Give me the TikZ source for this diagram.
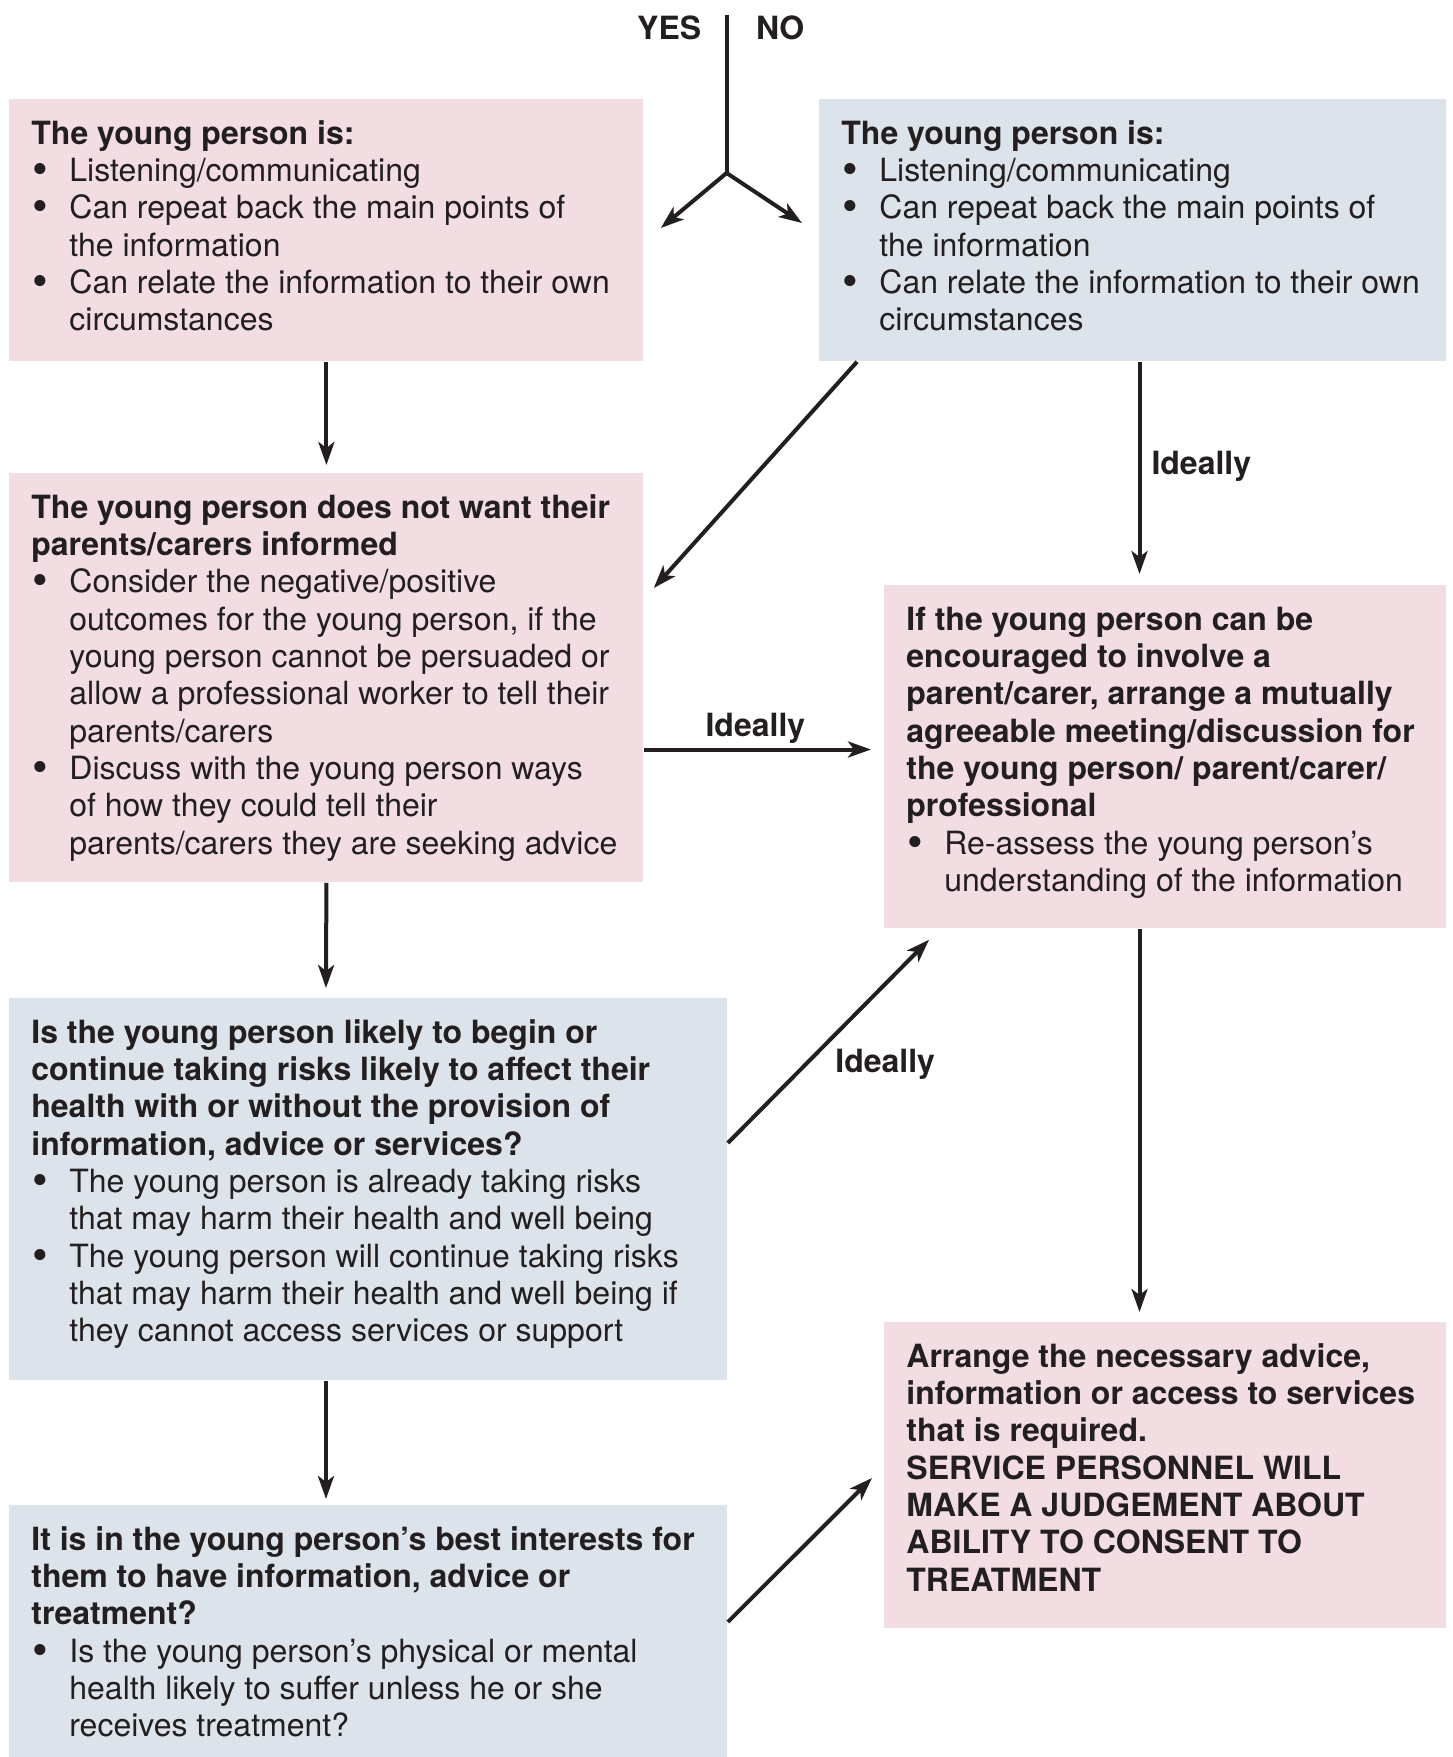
\documentclass[tikz,border=0pt]{standalone}
\usepackage{fontspec}
\setmainfont{TeX Gyre Heros}
\usetikzlibrary{arrows.meta,calc}

\definecolor{pinkfill}{RGB}{242,221,227}
\definecolor{bluefill}{RGB}{220,227,234}
\definecolor{inkgrey}{RGB}{35,31,32}

% bullet line, continuation line, boxed panel text
\newcommand\bitem{\makebox[19pt][l]{\hspace{0.6pt}\raisebox{-1.5pt}{\scalebox{1.4}{\textbullet}}}}
\newcommand\bcont{\hspace*{19pt}}
\newcommand\paneltext[3]{\hspace*{11pt}\parbox[t][#2][t]{\dimexpr#1-13pt\relax}{\raggedright\vspace*{9.4pt}\strut#3}\hspace*{2pt}}

\tikzset{
  panel/.style={anchor=north west, inner sep=0pt, text=inkgrey, font=\fontsize{16}{18.65}\selectfont},
  pinkbox/.style={panel, fill=pinkfill},
  bluebox/.style={panel, fill=bluefill},
  flow/.style={draw=inkgrey, line width=2pt, -{Stealth[length=11.5pt,width=8pt,inset=3pt]}},
  tag/.style={text=inkgrey, font=\fontsize{16}{18.65}\selectfont\bfseries, inner sep=0pt},
}

\begin{document}
\begin{tikzpicture}[x=0.5pt,y=-0.5pt]
\useasboundingbox (0,0) rectangle (1452,1757);

% Panels
\node[pinkbox] (listenyes) at (9,99) {\paneltext{317pt}{131pt}{%
\textbf{The young person is:}\\
\bitem Listening/communicating\\
\bitem Can repeat back the main points of\\
\bcont the information\\
\bitem Can relate the information to their own\\
\bcont circumstances}};

\node[bluebox] (listenno) at (819,99) {\paneltext{313.5pt}{131pt}{%
\textbf{The young person is:}\\
\bitem Listening/communicating\\
\bitem Can repeat back the main points of\\
\bcont the information\\
\bitem Can relate the information to their own\\
\bcont circumstances}};

\node[pinkbox] (noparents) at (9,473) {\paneltext{317pt}{204.5pt}{%
\textbf{The young person does not want their\\
parents/carers informed}\\
\bitem Consider the negative/positive\\
\bcont outcomes for the young person, if the\\
\bcont young person cannot be persuaded or\\
\bcont allow a professional worker to tell their\\
\bcont parents/carers\\
\bitem Discuss with the young person ways\\
\bcont of how they could tell their\\
\bcont parents/carers they are seeking advice}};

\node[pinkbox] (involve) at (884,585) {\paneltext{281pt}{171.5pt}{%
\textbf{If the young person can be\\
encouraged to involve a\\
parent/carer, arrange a mutually\\
agreeable meeting/discussion for\\
the young person/ parent/carer/\\
professional}\\
\bitem Re-assess the young person’s\\
\bcont understanding of the information}};

\node[bluebox] (risks) at (9,998) {\paneltext{359pt}{191pt}{%
\textbf{Is the young person likely to begin or\\
continue taking risks likely to affect their\\
health with or without the provision of\\
information, advice or services?}\\
\bitem The young person is already taking risks\\
\bcont that may harm their health and well being\\
\bitem The young person will continue taking risks\\
\bcont that may harm their health and well being if\\
\bcont they cannot access services or support}};

\node[bluebox] (interests) at (9,1505) {\paneltext{359pt}{126pt}{%
\textbf{It is in the young person’s best interests for\\
them to have information, advice or\\
treatment?}\\
\bitem Is the young person’s physical or mental\\
\bcont health likely to suffer unless he or she\\
\bcont receives treatment?}};

\node[pinkbox] (arrange) at (884,1322) {\paneltext{281pt}{153pt}{%
\textbf{Arrange the necessary advice,\\
information or access to services\\
that is required.\\
SERVICE PERSONNEL WILL\\
MAKE A JUDGEMENT ABOUT\\
ABILITY TO CONSENT TO\\
TREATMENT}}};

% Yes/no fork
\coordinate (forktop) at (726.6,15);
\coordinate (fork) at (726.6,173);
\node[tag, anchor=base east] (yes) at ($(forktop)+(-25,24)$) {YES};
\node[tag, anchor=base west] (no) at ($(forktop)+(29,24)$) {NO};
\draw[draw=inkgrey, line width=2pt] (forktop) -- (fork);
\draw[flow] (fork) -- ($(listenyes.north east)+(17,129)$);
\draw[flow] (fork) -- ($(listenno.north west)+(-17,124)$);

% Connectors
\draw[flow] (listenyes.south) -- ($(noparents.north)+(0,-8)$);
\draw[flow] ($(listenno.south west)+(38,0)$) -- ($(noparents.north east)+(10,115)$);
\draw[flow] ($(listenno.south west)+(320.5,0)$) -- node[tag, pos=0.533, anchor=base west, xshift=5pt] (ideal1) {Ideally} ($(involve.north west)+(255.5,-11)$);
\draw[flow] ($(noparents.north east)+(0,276.5)$) -- node[tag, midway, anchor=base, yshift=6.75pt, xshift=-1pt] (ideal2) {Ideally} ($(involve.north west)+(-13,164.5)$);
\draw[flow] (noparents.south) -- ($(risks.north west)+(317,-10)$);
\draw[flow] ($(risks.north east)+(0,145)$) -- node[tag, pos=0.346, anchor=base west, xshift=18pt] (ideal3) {Ideally} ($(involve.south west)+(45,11)$);
\draw[flow] ($(involve.south west)+(255.5,0)$) -- ($(arrange.north west)+(255.5,-10)$);
\draw[flow] ($(risks.south west)+(317,0)$) -- ($(interests.north west)+(317,-6)$);
\draw[flow] ($(interests.north east)+(0,117)$) -- ($(arrange.north west)+(-12,156)$);

\end{tikzpicture}
\end{document}
